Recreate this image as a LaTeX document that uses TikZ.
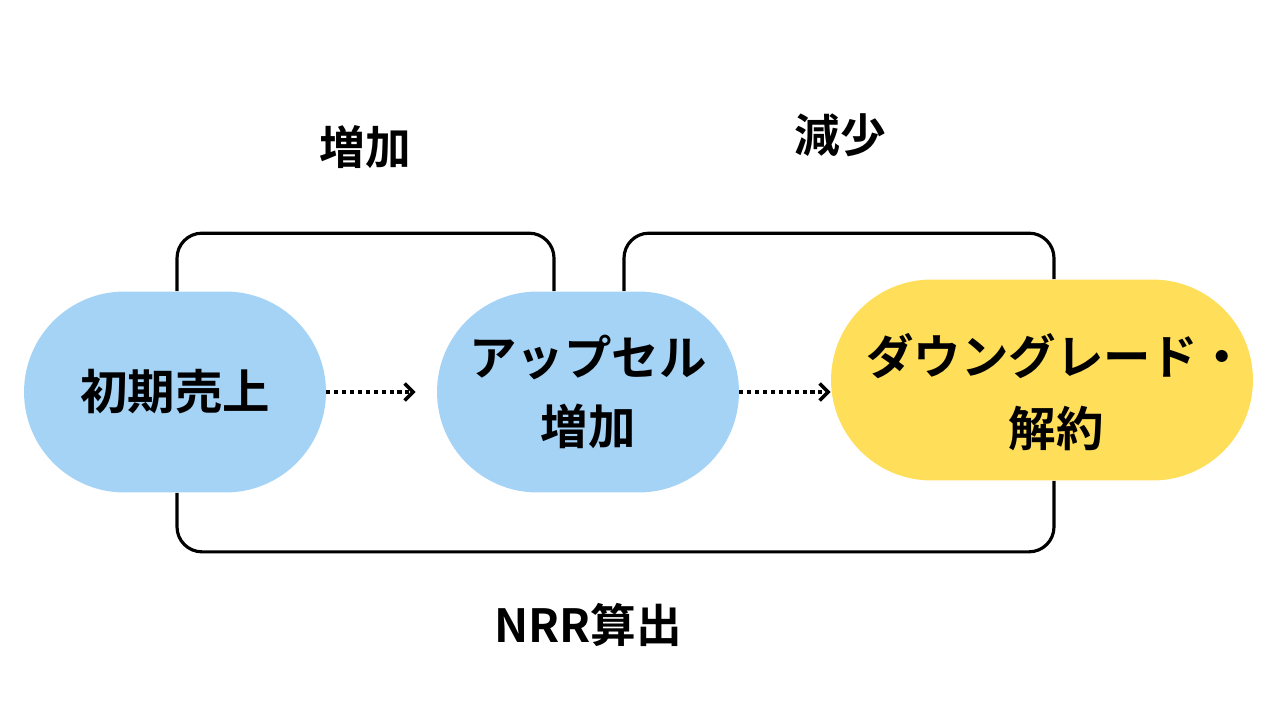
\documentclass[tikz,border=0pt]{standalone}
\usepackage{fontspec}
\setmainfont{Noto Sans CJK JP}[BoldFont={Noto Sans CJK JP Bold}]
\usepackage{xcolor}
\usepackage{tikz}
\usetikzlibrary{arrows.meta, positioning, backgrounds}

\definecolor{pillblue}{HTML}{A4D3F5}
\definecolor{pillyellow}{HTML}{FFDE59}

\tikzset{
    pill/.style={rectangle, rounded corners=2.01cm, minimum height=4.02cm,
        align=center, font=\bfseries\fontsize{27}{39}\selectfont, inner sep=0pt},
    pilltext/.style={align=center, font=\bfseries\fontsize{27}{41}\selectfont},
    bracket/.style={draw=black, line width=1.8pt, rounded corners=0.5cm},
    flow/.style={line width=2.3pt, dash pattern=on 2.3pt off 2.2pt,
        -{Straight Barb[length=1.7mm, width=3.4mm, line width=2pt]}},
    tag/.style={font=\bfseries\fontsize{26}{31}\selectfont}
}

\begin{document}
\begin{tikzpicture}[x=0.02cm, y=-0.02cm]
                \useasboundingbox (0, 0) rectangle (1280, 720);

                \node[pill, fill=pillblue, minimum width=6.04cm] (ini) at (175, 392) {初期売上};
                \node[pill, fill=pillblue, minimum width=6.04cm] (up) at (588, 392) {アップセル\\増加};
                \node[pill, fill=pillyellow, minimum width=8.44cm,
                    label={[pilltext, xshift=0.28cm, yshift=-0.24cm]center:ダウングレード・\\解約}] (dg) at (1042, 380) {};

                \node[tag] (inc) at (365, 147) {増加};
                \node[tag] (dec) at (840, 135) {減少};
                \node[tag] (nrr) at (588, 625) {NRR算出};

                \begin{scope}[on background layer]
                    \draw[bracket] ([xshift=0.04cm]ini.north) -- ++(0, -58) -| ([xshift=-0.68cm]up.north);
                    \draw[bracket] ([xshift=0.72cm]up.north) -- ++(0, -58) -| ([xshift=0.24cm]dg.north);
                    \draw[bracket] ([xshift=0.04cm]ini.south) -- ++(0, 59) -| ([xshift=0.24cm]dg.south);
                \end{scope}

                \draw[flow, shorten >=0.42cm] (ini.east) -- (up.west);
                \draw[flow] (up.east) -- (up.east -| dg.west);
            \end{tikzpicture}
\end{document}
